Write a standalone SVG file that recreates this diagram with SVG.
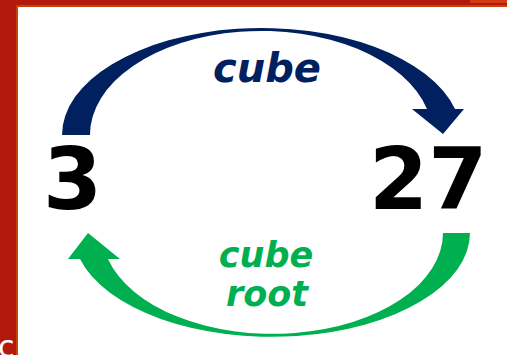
<svg xmlns="http://www.w3.org/2000/svg" width="507" height="355" viewBox="0 0 507 355">
  <style>
    .num { font-family: "DejaVu Sans", Verdana, sans-serif; font-weight: bold; font-size: 85px; fill: #000000; }
    .lbl { font-family: "DejaVu Sans", Verdana, sans-serif; font-weight: bold; font-style: oblique; text-anchor: middle; }
    .cube { fill: #002060; }
    .root { fill: #00B050; }
  </style>

  <!-- slide frame -->
  <rect x="0" y="0" width="507" height="355" fill="#B2180C"/>
  <rect x="470" y="0" width="37" height="3" fill="#D23A12"/>
  <rect x="16" y="5" width="491" height="350" fill="#C4430F"/>
  <rect x="18" y="7" width="489" height="348" fill="#FFFFFF"/>
  <text x="-2" y="357" font-family="DejaVu Sans, sans-serif" font-size="30" fill="#FFFFFF">c</text>

  <!-- values -->
  <g id="node-3">
    <text class="num" x="43" y="209">3</text>
  </g>
  <g id="node-27">
    <text class="num" x="369" y="209">27</text>
  </g>

  <!-- connectors -->
  <g id="connectors">
    <g id="edge-cube">
      <path class="cube" d="M 62 135 A 199.5 107 0 0 1 455 109 L 464 109 L 443 134 L 412 109 L 427 109 A 171.2 104 0 0 0 90 135 Z"/>
      <text class="lbl cube" x="267" y="82" font-size="40" textLength="108" lengthAdjust="spacingAndGlyphs">cube</text>
    </g>
    <g id="edge-cube-root">
      <path class="root" d="M 470 233 A 198.2 104 0 0 1 80 259 L 68 259 L 88 233 L 120 259 L 108 259 A 170.4 101 0 0 0 443 233 Z"/>
      <text class="lbl root" x="266" y="267" font-size="35">cube</text>
      <text class="lbl root" x="267" y="306" font-size="35">root</text>
    </g>
  </g>
</svg>
